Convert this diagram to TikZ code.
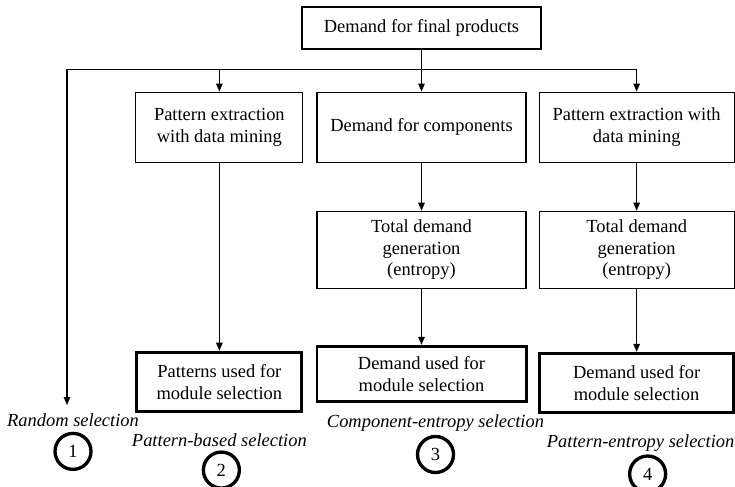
\documentclass[tikz,border=0pt]{standalone}
\usepackage{fontspec}
\setmainfont{Liberation Serif}
\usetikzlibrary{arrows.meta,positioning}
\tikzset{
  box/.style={draw=black,fill=white,line width=.65pt,align=center,inner sep=.1cm,font=\fontsize{10.5}{12.4}\selectfont},
  usedbox/.style={box,line width=1.7pt},
  flow/.style={-{Triangle[length=1.6mm,width=1.3mm]},draw=black,line width=.65pt},
  sellabel/.style={inner sep=0pt,font=\fontsize{10.5}{12.4}\selectfont\itshape},
  selnum/.style={circle,draw=black,line width=1.9pt,minimum size=.72cm,inner sep=0pt,font=\fontsize{10.5}{12.4}\selectfont}
}
\begin{document}
\begin{tikzpicture}[node distance=.1cm]
  \useasboundingbox (0,0) rectangle (14.7,-9.72);
  \node[box,minimum width=4.78cm,minimum height=.84cm] (final) at (8.43,-.56) {Demand for final products};
  % second row
  \node[box,minimum width=4.18cm,minimum height=1.4cm,below=.84cm of final] (comp) {Demand for components};
  \node[box,minimum width=3.34cm,minimum height=1.4cm,left=.26cm of comp] (mineA) {Pattern extraction\\with data mining};
  \node[box,minimum width=3.9cm,minimum height=1.4cm,right=.24cm of comp] (mineB) {Pattern extraction with\\data mining};
  % entropy
  \node[box,minimum width=4.18cm,minimum height=1.54cm,below=.96cm of comp] (entA) {Total demand\\generation\\(entropy)};
  \node[box,minimum width=3.9cm,minimum height=1.54cm,below=.96cm of mineB] (entB) {Total demand\\generation\\(entropy)};
  % used for module selection
  \node[usedbox,minimum width=3.3cm,minimum height=1.18cm,below=3.76cm of mineA] (patused) {Patterns used for\\module selection};
  \node[usedbox,minimum width=4.18cm,minimum height=1.1cm,below=1.12cm of entA] (demA) {Demand used for\\module selection};
  \node[usedbox,minimum width=3.88cm,minimum height=1.18cm,below=1.26cm of entB] (demB) {Demand used for\\module selection};
  \coordinate[below=.4cm of final.south] (split);
  \coordinate (rndend) at (1.34,-8.1);
  \draw[flow] (final) -- (comp);
  \draw[flow] (split) -| (mineA);
  \draw[flow] (split) -| (mineB);
  \draw[flow] (split) -| (rndend);
  \draw[flow] (mineA) -- (patused);
  \draw[flow] (comp) -- (entA);
  \draw[flow] (entA) -- (demA);
  \draw[flow] (mineB) -- (entB);
  \draw[flow] (entB) -- (demB);
  % selection labels
  \node[sellabel,below=.16cm of rndend,xshift=.12cm] (rndlbl) {Random selection};
  \node[sellabel,below=.42cm of patused] (patlbl) {Pattern-based selection};
  \node[sellabel,below=.22cm of demA,xshift=.28cm] (complbl) {Component-entropy selection};
  \node[sellabel,below=.4cm of demB,xshift=.08cm] (pentlbl) {Pattern-entropy selection};
  \node[selnum,below=.1cm of rndlbl] (one) {1};
  \node[selnum,below=.06cm of patlbl,xshift=.04cm] (two) {2};
  \node[selnum,below=.07cm of complbl] (three) {3};
  \node[selnum,below=.06cm of pentlbl,xshift=.14cm] (four) {4};
\end{tikzpicture}
\end{document}
